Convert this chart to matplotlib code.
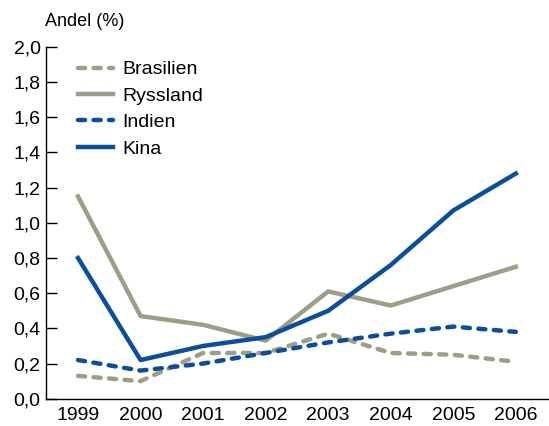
import matplotlib.pyplot as plt

# data
years = [1999, 2000, 2001, 2002, 2003, 2004, 2005, 2006]
brasilien = [0.13, 0.10, 0.26, 0.26, 0.37, 0.26, 0.25, 0.21]
ryssland = [1.15, 0.47, 0.42, 0.33, 0.61, 0.53, 0.64, 0.75]
indien = [0.22, 0.16, 0.20, 0.26, 0.32, 0.37, 0.41, 0.38]
kina = [0.80, 0.22, 0.30, 0.35, 0.50, 0.76, 1.07, 1.28]
y_ticks = [0.0, 0.2, 0.4, 0.6, 0.8, 1.0, 1.2, 1.4, 1.6, 1.8, 2.0]

tan = '#a09d86'
blue = '#0b4f9c'

plt.rcParams['font.family'] = ['Liberation Sans', 'DejaVu Sans']

fig = plt.figure(figsize=(5.49, 4.26), dpi=100)
ax = fig.add_axes([0.084, 0.064, 0.916, 0.826])

dash = (0, (1.6, 1.9))
ax.plot(years, brasilien, color=tan, lw=3.2, linestyle=dash,
        dash_capstyle='round', label='Brasilien')
ax.plot(years, ryssland, color=tan, lw=3.2, label='Ryssland')
ax.plot(years, indien, color=blue, lw=3.2, linestyle=dash,
        dash_capstyle='round', label='Indien')
ax.plot(years, kina, color=blue, lw=3.2, label='Kina')

ax.set_xlim(1998.49, 2006.53)
ax.set_ylim(0, 2.0)
ax.set_xticks(years)
ax.set_xticklabels([str(y) for y in years], fontsize=14)
ax.set_yticks(y_ticks)
ax.set_yticklabels([('%.1f' % v).replace('.', ',') for v in y_ticks], fontsize=14)
ax.tick_params(axis='x', length=0, pad=6)
ax.tick_params(axis='y', direction='in', length=8, width=1, pad=4)

for side in ['top', 'right']:
    ax.spines[side].set_visible(False)
ax.spines['left'].set_linewidth(1)
ax.spines['bottom'].set_linewidth(1)

fig.text(0.082, 0.95, 'Andel (%)', fontsize=13, ha='left', va='center')

ax.legend(loc='upper left', bbox_to_anchor=(0.028, 1.01), frameon=False,
          fontsize=14, handlelength=1.8, handletextpad=0.5, labelspacing=0.45)

plt.savefig('out.png', dpi=100)
